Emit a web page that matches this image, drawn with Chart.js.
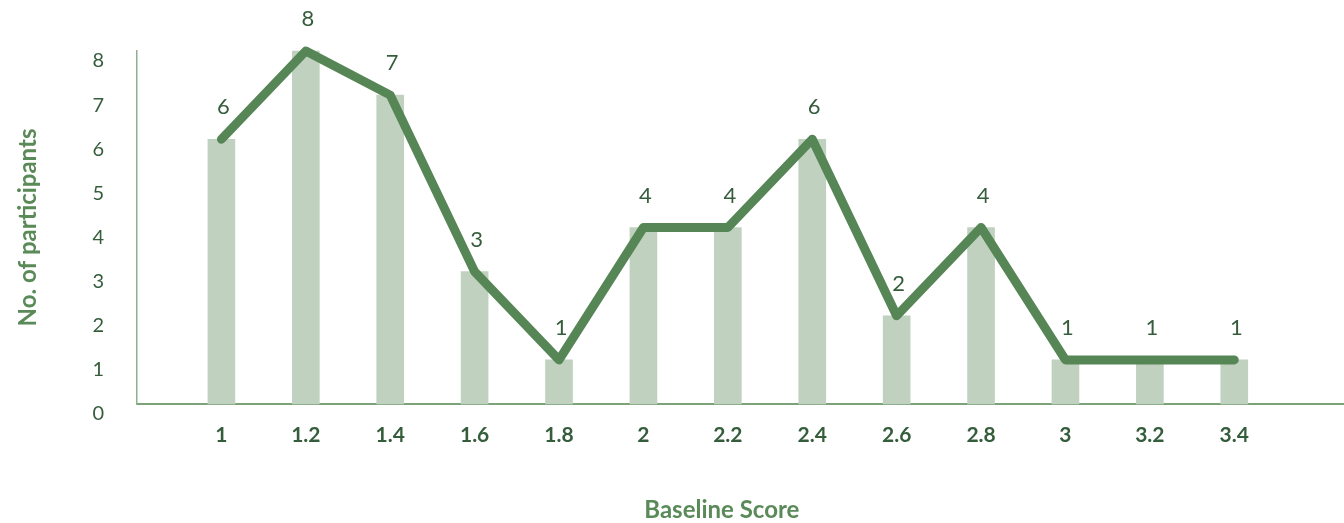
<!DOCTYPE html>
<html>
<head>
<meta charset="utf-8">
<title>Baseline Score distribution</title>
<script src="https://cdn.jsdelivr.net/npm/chart.js@4/dist/chart.umd.min.js"></script>
<style>
  html, body { margin: 0; padding: 0; background: #ffffff; }
  #wrap { width: 1344px; height: 523px; }
</style>
</head>
<body>
<div id="wrap"><canvas id="chart" width="1344" height="523"></canvas></div>
<script>
// Baseline score categories and number of participants in each
const categories = ['1', '1.2', '1.4', '1.6', '1.8', '2', '2.2', '2.4', '2.6', '2.8', '3', '3.2', '3.4'];
const participants = [6, 8, 7, 3, 1, 4, 4, 6, 2, 4, 1, 1, 1];
const yTicks = [0, 1, 2, 3, 4, 5, 6, 7, 8];

const FONT = 'Lato, "Open Sans", sans-serif';
const LINE_GREEN = '#578656';
const BAR_GREEN = '#c0d2bf';
const TEXT_DARK = '#355d3c';
const TITLE_GREEN = '#5a8a58';

const points = participants.map((v, i) => ({ x: i, y: v }));

// Value labels above each point of the line
const valueLabels = {
  id: 'valueLabels',
  afterDatasetsDraw(chart) {
    const meta = chart.getDatasetMeta(0);
    const ctx = chart.ctx;
    ctx.save();
    ctx.font = '22px ' + FONT;
    ctx.fillStyle = TEXT_DARK;
    ctx.textAlign = 'center';
    ctx.textBaseline = 'middle';
    meta.data.forEach((pt, i) => {
      ctx.fillText(String(participants[i]), pt.x + 2, pt.y - 32);
    });
    ctx.restore();
  }
};

// Horizontal axis title, centred under the run of categories
const xTitle = {
  id: 'xTitle',
  afterDraw(chart) {
    const xs = chart.scales.x;
    const first = xs.getPixelForValue(0);
    const last = xs.getPixelForValue(categories.length - 1);
    const ctx = chart.ctx;
    ctx.save();
    ctx.font = 'bold 24px ' + FONT;
    ctx.fillStyle = TITLE_GREEN;
    ctx.textAlign = 'center';
    ctx.textBaseline = 'middle';
    ctx.fillText('Baseline Score', (first + last) / 2 - 6, xs.bottom - 13);
    ctx.restore();
  }
};

new Chart(document.getElementById('chart'), {
  type: 'bar',
  data: {
    datasets: [
      {
        type: 'line',
        label: 'Participants',
        data: points,
        borderColor: LINE_GREEN,
        borderWidth: 9,
        borderCapStyle: 'round',
        borderJoinStyle: 'round',
        tension: 0,
        pointRadius: 0,
        fill: false,
        clip: false,
        order: 0
      },
      {
        type: 'bar',
        label: 'Participants',
        data: points,
        backgroundColor: BAR_GREEN,
        borderWidth: 0,
        barThickness: 27,
        clip: false,
        order: 1
      }
    ]
  },
  options: {
    responsive: false,
    animation: false,
    layout: { padding: { top: 51, right: 0, bottom: 0, left: 0 } },
    plugins: {
      legend: { display: false },
      tooltip: { enabled: false }
    },
    scales: {
      x: {
        type: 'linear',
        min: -1,
        max: 13.3,
        offset: false,
        grid: { display: false, drawTicks: false, offset: false },
        border: { display: true, color: '#7ba279', width: 2 },
        ticks: {
          stepSize: 1,
          autoSkip: false,
          maxRotation: 0,
          padding: 19,
          color: TEXT_DARK,
          font: { family: FONT, size: 21, weight: 'bold' },
          callback: (value) => (Number.isInteger(value) && categories[value] !== undefined) ? categories[value] : ''
        },
        afterFit: (scale) => {
          scale.height = 119;
          scale.paddingLeft = 0;
          scale.paddingRight = 0;
        }
      },
      y: {
        type: 'linear',
        min: 0,
        max: 8,
        grid: { display: false, drawTicks: false },
        border: { display: true, color: '#8fb08d', width: 1.5 },
        afterBuildTicks: (scale) => { scale.ticks = yTicks.map(v => ({ value: v })); },
        ticks: {
          padding: 33,
          labelOffset: 10,
          color: TEXT_DARK,
          font: { family: FONT, size: 20 }
        },
        title: {
          display: true,
          text: 'No. of participants',
          color: TITLE_GREEN,
          font: { family: FONT, size: 24, weight: 'bold' },
          padding: { top: 14, bottom: 0 }
        },
        afterFit: (scale) => {
          scale.width = 137;
          scale.paddingTop = 0;
          scale.paddingBottom = 0;
        }
      }
    }
  },
  plugins: [valueLabels, xTitle]
});
</script>
</body>
</html>
